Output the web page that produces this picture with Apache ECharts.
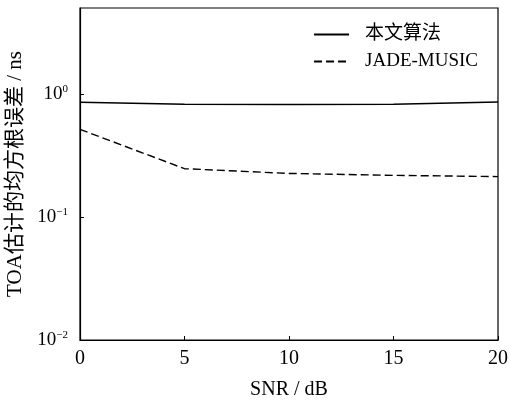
<!DOCTYPE html>
<html>
<head>
<meta charset="utf-8">
<script src="https://cdn.jsdelivr.net/npm/echarts@6/dist/echarts.min.js"></script>
<style>
  html, body { margin: 0; padding: 0; background: #fff; }
  #chart { width: 511px; height: 401px; }
</style>
</head>
<body>
<div id="chart"></div>
<script>
// SNR (dB)
const snr = [0, 5, 10, 15, 20];
// RMSE of TOA estimate (ns)
const proposed = [0.856, 0.824, 0.822, 0.824, 0.861];
const jadeMusic = [0.516, 0.247, 0.226, 0.218, 0.213];
const seriesNames = ['本文算法', 'JADE-MUSIC'];

const font = '"Liberation Serif", "Times New Roman", "Noto Sans CJK SC", serif';

const chart = echarts.init(document.getElementById('chart'));

function pair(arr) {
  return snr.map((x, i) => [x, arr[i]]);
}

const option = {
  backgroundColor: '#fff',
  animation: false,
  textStyle: { fontFamily: font, color: '#000' },
  grid: {
    left: 80, right: 13, top: 8, bottom: 61,
    outerBoundsMode: 'none',
    show: true, borderColor: '#000', borderWidth: 1.2
  },
  legend: {
    right: 28, top: 20,
    orient: 'vertical',
    itemWidth: 35, itemHeight: 12, itemGap: 8,
    itemStyle: { opacity: 0 },
    textStyle: { fontFamily: font, fontSize: 19, color: '#000', padding: [0, 0, 0, 11] },
    data: seriesNames
  },
  xAxis: {
    type: 'value',
    min: 0, max: 20, interval: 5,
    name: 'SNR / dB',
    nameLocation: 'middle',
    nameGap: 40,
    nameTextStyle: { fontFamily: font, fontSize: 20, color: '#000' },
    axisLine: { lineStyle: { color: '#000', width: 1.2 } },
    axisTick: { inside: true, length: 4, lineStyle: { color: '#000' } },
    axisLabel: { fontFamily: font, fontSize: 20, color: '#000', margin: 9 },
    splitLine: { show: false }
  },
  yAxis: {
    type: 'log',
    logBase: 10,
    min: 0.01, max: 5,
    name: 'TOA估计的均方根误差 / ns',
    nameLocation: 'middle',
    nameGap: 50,
    nameTextStyle: { fontFamily: font, fontSize: 21, color: '#000' },
    axisLine: { lineStyle: { color: '#000', width: 1.2 } },
    axisTick: { inside: true, length: 4, lineStyle: { color: '#000' } },
    axisLabel: {
      showMaxLabel: false,
      margin: 12,
      formatter: function (v) {
        const e = Math.round(Math.log10(v));
        return '{b|10}{s|' + (e < 0 ? '\u2212' + (-e) : e) + '}';
      },
      rich: {
        b: { fontFamily: font, fontSize: 19, color: '#000' },
        s: { fontFamily: font, fontSize: 11, color: '#000', verticalAlign: 'top', padding: [0, 0, 10, 0] }
      }
    },
    splitLine: { show: false }
  },
  series: [
    {
      name: seriesNames[0],
      type: 'line',
      data: pair(proposed),
      symbol: 'none',
      lineStyle: { color: '#000', width: 1.4, type: 'solid' },
      itemStyle: { color: '#000' }
    },
    {
      name: seriesNames[1],
      type: 'line',
      data: pair(jadeMusic),
      symbol: 'none',
      lineStyle: { color: '#000', width: 1.4, type: [8, 4] },
      itemStyle: { color: '#000' }
    }
  ]
};

chart.setOption(option);
</script>
</body>
</html>
